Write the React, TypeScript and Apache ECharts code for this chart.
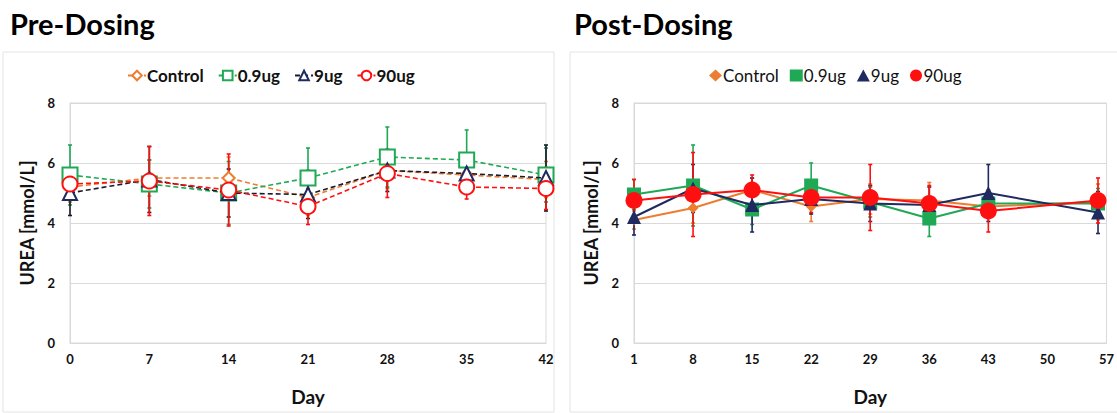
import React, { useEffect, useRef } from "react";
import * as echarts from "echarts";

// Study days
const preDays = [0, 7, 14, 21, 28, 35, 42];
const postDays = [1, 8, 15, 22, 29, 36, 43, 56];

// Group labels
const groups = ["Control", "0.9ug", "9ug", "90ug"];

// Pre-dosing UREA means (mmol/L) and standard deviations
const preControl = [5.2, 5.5, 5.5, 4.85, 5.75, 5.6, 5.45];
const preControlSd = [0.5, 0.6, 0.7, 0.6, 0.6, 0.5, 0.6];
const pre09 = [5.6, 5.3, 5.0, 5.5, 6.2, 6.1, 5.6];
const pre09Sd = [1.0, 0.8, 1.05, 1.0, 1.0, 1.0, 0.9];
const pre9 = [5.0, 5.45, 5.0, 4.95, 5.75, 5.65, 5.5];
const pre9Sd = [0.75, 1.1, 0.8, 0.8, 0.7, 0.6, 1.1];
const pre90 = [5.3, 5.4, 5.1, 4.55, 5.65, 5.2, 5.15];
const pre90Sd = [0.5, 1.15, 1.2, 0.6, 0.8, 0.4, 0.7];

// Post-dosing UREA means (mmol/L) and standard deviations
const postControl = [4.1, 4.5, 5.1, 4.55, 4.8, 4.75, 4.55, 4.7];
const postControlSd = [0.3, 0.5, 0.4, 0.5, 0.5, 0.6, 0.4, 0.6];
const post09 = [4.95, 5.25, 4.45, 5.25, 4.7, 4.15, 4.65, 4.65];
const post09Sd = [0.5, 1.35, 0.5, 0.75, 0.5, 0.6, 0.4, 0.5];
const post9 = [4.2, 5.15, 4.6, 4.8, 4.65, 4.6, 5.0, 4.35];
const post9Sd = [0.6, 0.8, 0.9, 0.5, 0.6, 0.6, 0.95, 0.7];
const post90 = [4.75, 4.95, 5.1, 4.85, 4.85, 4.65, 4.4, 4.75];
const post90Sd = [0.7, 1.4, 0.5, 0.5, 1.1, 0.6, 0.7, 0.75];

// Y axis ticks
const yTicks = { min: 0, max: 8, interval: 2 };

const COLORS = ["#ED7D31", "#1FA955", "#1F2A60", "#FF1010"];
const PRE_LINE = ["#ED7D31", "#1FA955", "#1a1a2e", "#FF1010"];
const FONT = "Lato, 'Open Sans', sans-serif";

type SeriesDef = { name: string; values: number[]; sd: number[] };

function errorBarSeries(days: number[], s: SeriesDef, color: string, shift: number) {
  return {
    type: "custom",
    name: s.name + " SD",
    silent: true,
    z: 1,
    encode: { x: 0, y: [1, 2] },
    data: days.map((d, i) => [d - shift, s.values[i] - s.sd[i], s.values[i] + s.sd[i]]),
    renderItem: (_params: any, api: any) => {
      const x = api.value(0);
      const top = api.coord([x, api.value(2)]);
      const bot = api.coord([x, api.value(1)]);
      const cap = 2;
      const style = { stroke: color, lineWidth: 1.6 };
      return {
        type: "group",
        children: [
          { type: "line", shape: { x1: top[0], y1: top[1], x2: bot[0], y2: bot[1] }, style },
          { type: "line", shape: { x1: top[0] - cap, y1: top[1], x2: top[0] + cap, y2: top[1] }, style },
          { type: "line", shape: { x1: bot[0] - cap, y1: bot[1], x2: bot[0] + cap, y2: bot[1] }, style },
        ],
      };
    },
  };
}

function buildOption(opts: {
  title: string;
  titleLeft: number;
  days: number[];
  shift: number;
  xMax: number;
  gridLeft: number;
  legendLeft: number;
  frameX: number;
  frameW: number;
  series: SeriesDef[];
  pre: boolean;
}) {
  const symbolsPre = ["emptyDiamond", "emptyRect", "emptyTriangle", "emptyCircle"];
  const sizesPre = [12, 15, 14, 15];
  const symbolsPost = ["diamond", "rect", "triangle", "circle"];
  const sizesPost = [11, 14, 14, 17];
  const legendIcons = ["diamond", "rect", "triangle", "circle"];
  const lineSeries = opts.series.map((s, i) => ({
    type: "line",
    name: s.name,
    z: 3 + i,
    data: opts.days.map((d, j) => [d - opts.shift, s.values[j]]),
    symbol: opts.pre ? symbolsPre[i] : symbolsPost[i],
    symbolSize: opts.pre ? sizesPre[i] : sizesPost[i],
    showSymbol: true,
    lineStyle: {
      color: opts.pre ? PRE_LINE[i] : COLORS[i],
      width: opts.pre ? 1.6 : 2,
      type: opts.pre ? [5, 3] : "solid",
    },
    itemStyle: {
      color: COLORS[i],
      borderColor: COLORS[i],
      borderWidth: opts.pre ? 1.8 : 0,
    },
  }));
  const errSeries = opts.series.map((s, i) =>
    errorBarSeries(opts.days, s, opts.pre ? PRE_LINE[i] : COLORS[i], opts.shift)
  );
  const legendData = opts.pre
    ? groups
    : groups.map((g, i) => ({ name: g, icon: legendIcons[i] }));
  return {
    animation: false,
    textStyle: { fontFamily: FONT },
    graphic: [
      {
        type: "rect",
        shape: { x: opts.frameX, y: 52, width: opts.frameW, height: 360 },
        style: { fill: "none", stroke: "#e4e4e4", lineWidth: 1 },
        silent: true,
      },
      {
        type: "text",
        left: opts.titleLeft,
        top: 9,
        style: { text: opts.title, fontFamily: FONT, fontWeight: "bold", fontSize: 29, fill: "#000" },
      },
    ],
    legend: {
      data: legendData,
      left: opts.legendLeft,
      top: 62,
      itemWidth: opts.pre ? 18 : 13,
      itemHeight: opts.pre ? 12 : 12,
      itemGap: opts.pre ? 14 : 11,
      textStyle: {
        fontFamily: FONT,
        fontSize: 17,
        fontWeight: opts.pre ? "bold" : "normal",
        color: "#111",
        padding: [0, 0, 0, -4],
      },
      selectedMode: false,
    },
    grid: {
      left: opts.gridLeft,
      width: 476,
      top: 103,
      height: 240,
      show: true,
      borderColor: "#d9d9d9",
      borderWidth: 1,
    },
    xAxis: {
      type: "value",
      min: 0,
      max: opts.xMax,
      interval: 7,
      name: "Day",
      nameLocation: "middle",
      nameGap: 44,
      nameTextStyle: { fontFamily: FONT, fontSize: 19, fontWeight: "bold", color: "#111" },
      axisLine: { show: true, lineStyle: { color: "#d9d9d9" } },
      axisTick: { show: false },
      splitLine: { show: false },
      axisLabel: {
        margin: 9,
        fontFamily: FONT,
        fontSize: 13,
        fontWeight: "bold",
        color: "#111",
        formatter: (v: number) => String(v + opts.shift),
      },
    },
    yAxis: {
      type: "value",
      min: yTicks.min,
      max: yTicks.max,
      interval: yTicks.interval,
      name: "UREA [mmol/L]",
      nameLocation: "middle",
      nameGap: 34,
      nameTextStyle: { fontFamily: FONT, fontSize: 18, fontWeight: "bold", color: "#111" },
      axisLine: { show: true, lineStyle: { color: "#d9d9d9" } },
      axisTick: { show: false },
      splitLine: { show: true, lineStyle: { color: "#d9d9d9" } },
      axisLabel: { margin: 15, fontFamily: FONT, fontSize: 13, fontWeight: "bold", color: "#111" },
    },
    series: [...errSeries, ...lineSeries],
  };
}

function Panel(props: { option: any; left: number; width: number }) {
  const ref = useRef<HTMLDivElement>(null);
  useEffect(() => {
    if (!ref.current) return;
    const chart = echarts.init(ref.current, undefined, { renderer: "svg" });
    chart.setOption(props.option);
    return () => chart.dispose();
  }, [props.option]);
  return (
    <div
      ref={ref}
      style={{ position: "absolute", top: 0, left: props.left, width: props.width, height: 413 }}
    />
  );
}

const preOption = buildOption({
  title: "Pre-Dosing",
  titleLeft: 10,
  days: preDays,
  shift: 0,
  xMax: 42,
  gridLeft: 70,
  legendLeft: 122,
  frameX: 3,
  frameW: 551,
  pre: true,
  series: [
    { name: groups[0], values: preControl, sd: preControlSd },
    { name: groups[1], values: pre09, sd: pre09Sd },
    { name: groups[2], values: pre9, sd: pre9Sd },
    { name: groups[3], values: pre90, sd: pre90Sd },
  ],
});

const postOption = buildOption({
  title: "Post-Dosing",
  titleLeft: 16,
  days: postDays,
  shift: 1,
  xMax: 56,
  gridLeft: 76,
  legendLeft: 146,
  frameX: 12,
  frameW: 560,
  pre: false,
  series: [
    { name: groups[0], values: postControl, sd: postControlSd },
    { name: groups[1], values: post09, sd: post09Sd },
    { name: groups[2], values: post9, sd: post9Sd },
    { name: groups[3], values: post90, sd: post90Sd },
  ],
});

export default function App() {
  return (
    <div style={{ position: "absolute", left: 0, top: 0, width: 1117, height: 413, background: "#fff", overflow: "hidden" }}>
      <Panel option={preOption} left={0} width={558} />
      <Panel option={postOption} left={558} width={559} />
    </div>
  );
}
